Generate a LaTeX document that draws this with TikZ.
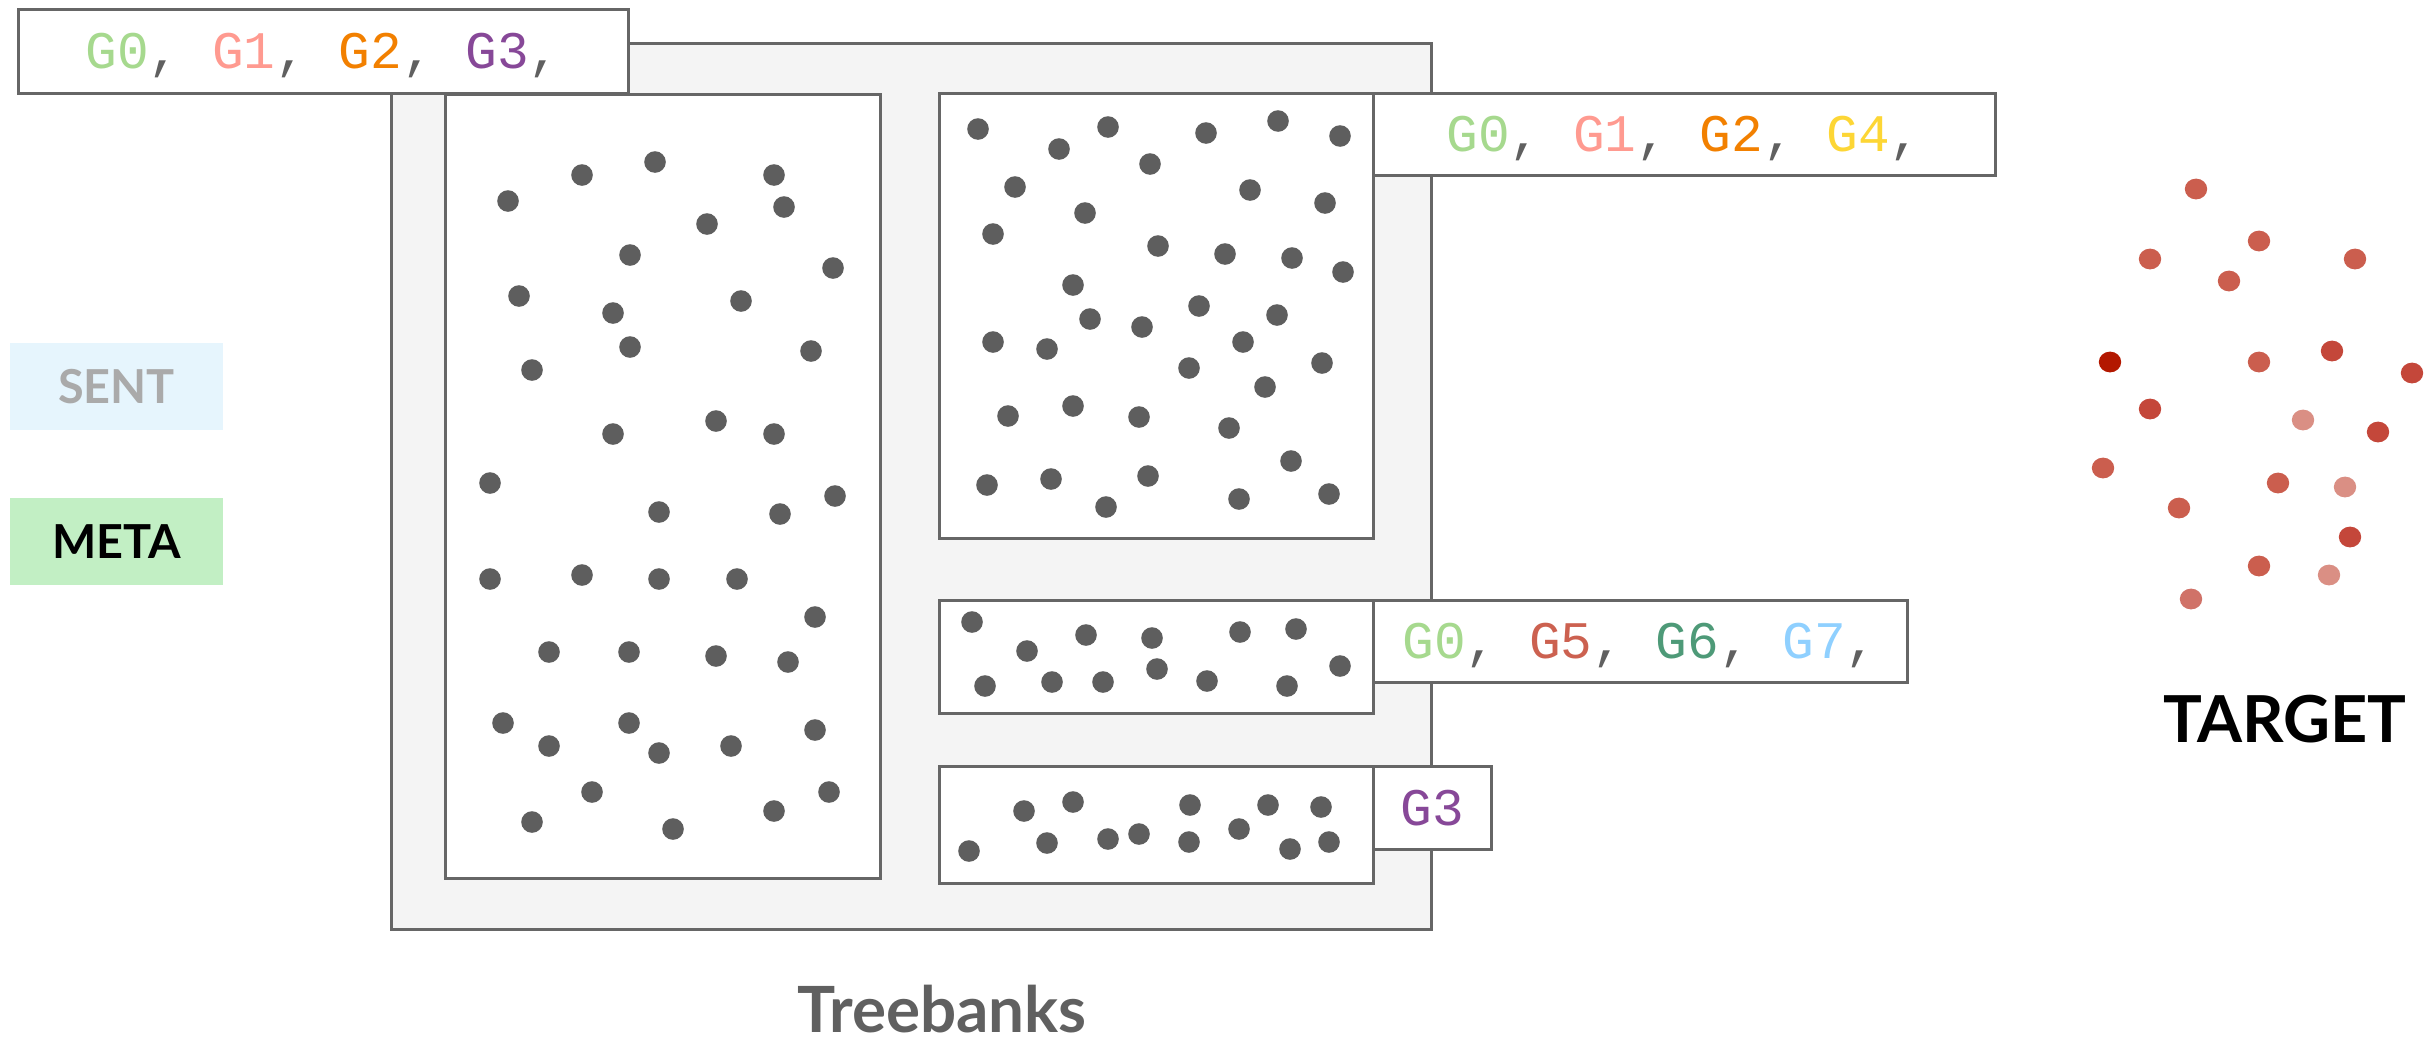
\documentclass[tikz,border=0pt]{standalone}
\usepackage{fontspec}
\setmainfont{Lato}
\newfontfamily\codefont{Liberation Mono}

\definecolor{edgegray}{HTML}{666666}
\definecolor{panelgray}{HTML}{F4F4F4}
\definecolor{dotgray}{HTML}{5E5E5E}
\definecolor{commagray}{HTML}{606060}
\definecolor{cGzero}{HTML}{A6D98E}
\definecolor{cGone}{HTML}{FF9A90}
\definecolor{cGtwo}{HTML}{F28000}
\definecolor{cGthree}{HTML}{874898}
\definecolor{cGfour}{HTML}{FDD635}
\definecolor{cGfive}{HTML}{CC6150}
\definecolor{cGsix}{HTML}{4E9A78}
\definecolor{cGseven}{HTML}{8FD0FF}
\definecolor{sentfill}{HTML}{E6F5FD}
\definecolor{sentText}{HTML}{AAAAAA}
\definecolor{metafill}{HTML}{C2EFC4}
\definecolor{tmid}{HTML}{CB5E4E}
\definecolor{tdark}{HTML}{C4473A}
\definecolor{tdeep}{HTML}{B31800}
\definecolor{tlight}{HTML}{DA8F84}
\definecolor{tsoft}{HTML}{D07268}

\newcommand{\gtag}[2]{{\color{#1}#2}}
\newcommand{\cm}{{\color{commagray},}}

\begin{document}
\begin{tikzpicture}[x=1bp,y=-1bp,
  frame/.style={draw=edgegray, line width=3bp},
  panel/.style={frame, fill=white, anchor=north west, inner sep=0pt, outer sep=0pt},
  tagbox/.style={frame, fill=white, anchor=north west, inner sep=0pt, outer sep=0pt,
    font=\codefont\fontsize{53}{60}\selectfont, text height=35bp, text depth=0bp},
  legend/.style={anchor=north west, inner sep=0pt, outer sep=0pt,
    font=\bfseries\fontsize{47}{50}\selectfont, text height=34bp, text depth=0bp},
  caption/.style={anchor=base, inner sep=0pt, font=\bfseries}]
\useasboundingbox (0,0) rectangle (2425,1041);

% treebank container and its panels
\node[panel, fill=panelgray, minimum width=1040bp, minimum height=886bp] (outer) at (391,43) {};
\node[panel, minimum width=435bp, minimum height=784bp] (left) at (445,94) {};
\node[panel, minimum width=434bp, minimum height=445bp] (topright) at (939,93) {};
\node[panel, minimum width=434bp, minimum height=113bp] (mid) at (939,600) {};
\node[panel, minimum width=434bp, minimum height=117bp] (bottom) at (939,766) {};

% sentences in each panel
\foreach \p in {(508,201),(582,175),(655,162),(774,175),(784,207),(707,224),(630,255),(833,268),
  (519,296),(613,313),(741,301),(630,347),(811,351),(532,370),(613,434),(716,421),(774,434),
  (490,483),(659,512),(780,514),(835,496),(490,579),(582,575),(659,579),(737,579),(815,617),
  (549,652),(629,652),(716,656),(788,662),(503,723),(549,746),(629,723),(659,753),(731,746),
  (815,730),(592,792),(532,822),(673,829),(774,811),(829,792)}
  \fill[dotgray] \p circle[radius=10.8bp];
\foreach \p in {(978,129),(1059,149),(1108,127),(1206,133),(1278,121),(1340,136),(1015,187),
  (1150,164),(1250,190),(1325,203),(993,234),(1085,213),(1158,246),(1225,254),(1292,258),
  (1343,272),(1073,285),(1090,319),(1199,306),(1277,315),(993,342),(1047,349),(1142,327),
  (1243,342),(1189,368),(1322,363),(1265,387),(1008,416),(1073,406),(1139,417),(1229,428),
  (987,485),(1051,479),(1148,476),(1106,507),(1291,461),(1239,499),(1329,494)}
  \fill[dotgray] \p circle[radius=10.8bp];
\foreach \p in {(972,622),(1027,651),(1086,635),(1152,638),(1240,632),(1296,629),(1340,666),
  (985,686),(1052,682),(1103,682),(1157,669),(1207,681),(1287,686)}
  \fill[dotgray] \p circle[radius=10.8bp];
\foreach \p in {(1024,811),(1073,802),(1190,805),(1268,805),(1321,807),(969,851),(1047,843),
  (1108,839),(1139,834),(1189,842),(1239,829),(1290,849),(1329,842)}
  \fill[dotgray] \p circle[radius=10.8bp];

% genre tags
\node[tagbox, minimum width=610bp, minimum height=84bp] (tagA) at (18,9)
  {\gtag{cGzero}{G0}\cm{} \gtag{cGone}{G1}\cm{} \gtag{cGtwo}{G2}\cm{} \gtag{cGthree}{G3}\cm};
\node[tagbox, minimum width=622bp, minimum height=82bp] (tagB) at (1373,93)
  {\gtag{cGzero}{G0}\cm{} \gtag{cGone}{G1}\cm{} \gtag{cGtwo}{G2}\cm{} \gtag{cGfour}{G4}\cm};
\node[tagbox, minimum width=534bp, minimum height=82bp] (tagC) at (1373,600)
  {\gtag{cGzero}{G0}\cm{} \gtag{cGfive}{G5}\cm{} \gtag{cGsix}{G6}\cm{} \gtag{cGseven}{G7}\cm};
\node[tagbox, minimum width=118bp, minimum height=83bp] (tagD) at (1373,766)
  {\gtag{cGthree}{G3}};

% legend
\node[legend, fill=sentfill, text=sentText, minimum width=213bp, minimum height=87bp] (sent) at (10,343) {SENT};
\node[legend, fill=metafill, text=black, minimum width=213bp, minimum height=87bp] (meta) at (10,498) {META};

% target sample
\foreach \p/\c in {(2196,189)/tmid,(2259,241)/tmid,(2150,259)/tmid,(2355,259)/tmid,(2229,281)/tmid,
  (2110,362)/tdeep,(2259,362)/tmid,(2332,351)/tdark,(2412,373)/tdark,(2150,409)/tdark,
  (2303,420)/tlight,(2378,432)/tdark,(2103,468)/tmid,(2179,508)/tmid,(2278,483)/tmid,
  (2345,487)/tlight,(2350,537)/tdark,(2259,566)/tmid,(2329,575)/tlight,(2191,599)/tsoft}
  \fill[\c] \p ellipse[x radius=11.2bp, y radius=10.4bp];

% captions
\node[caption, font=\bfseries\fontsize{65}{70}\selectfont] (target) at (2285,742) {TARGET};
\node[caption, text=commagray, font=\bfseries\fontsize{64}{70}\selectfont] (treebanks) at (942,1032) {Treebanks};
\end{tikzpicture}
\end{document}
